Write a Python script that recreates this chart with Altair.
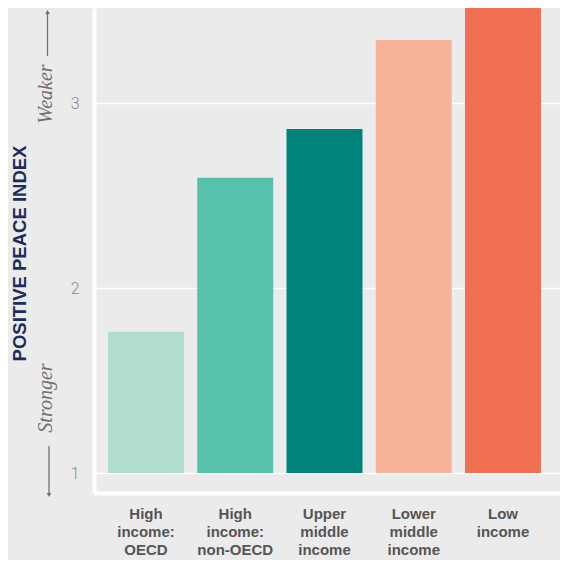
import altair as alt
import pandas as pd

categories = ["High income: OECD", "High income: non-OECD", "Upper middle income",
              "Lower middle income", "Low income"]
values = [1.765, 2.597, 2.862, 3.343, 3.75]
colors = ["#b0ddcf", "#57c2ab", "#00837b", "#f8b299", "#f17052"]
y_ticks = [1, 2, 3]
base_value = 1
y_title = "POSITIVE PEACE INDEX"
weaker_label = ["Weaker"]
stronger_label = ["Stronger"]

df = pd.DataFrame({"category": categories, "value": values,
                   "base": [base_value] * len(categories)})

W, H = 466, 485
GRAY = "#707070"

bars = alt.Chart(df).mark_bar(clip=True).encode(
    x=alt.X("category:N", sort=categories,
            scale=alt.Scale(paddingInner=0.1485, paddingOuter=0.185, align=0.424),
            axis=alt.Axis(title=None, labelAngle=0,
                          labelExpr="split(datum.label, ' ')",
                          labelFont="Liberation Sans", labelFontSize=15,
                          labelFontWeight="bold", labelColor="#555555",
                          labelLineHeight=18, labelPadding=13,
                          ticks=False, tickSize=0, grid=False,
                          domainColor="white", domainWidth=4)),
    y=alt.Y("value:Q",
            scale=alt.Scale(domain=[0.892, 3.516], nice=False, zero=False),
            axis=alt.Axis(values=y_ticks, title=y_title, format="d",
                          ticks=False, tickSize=0, labelPadding=15,
                          labelFont="Roboto", labelFontWeight=300,
                          labelFontSize=16, labelColor="#8a8a8a",
                          gridColor="white", gridWidth=1.5,
                          domainColor="white", domainWidth=4,
                          titleFont="Liberation Sans", titleFontSize=18.5,
                          titleFontWeight="bold", titleColor="#1e2c5c",
                          titleAngle=270, titleX=-75, titleY=245,
                          titleAlign="center", titleBaseline="middle")),
    y2="base:Q",
    color=alt.Color("category:N", sort=categories,
                    scale=alt.Scale(domain=categories, range=colors), legend=None),
)

text_style = dict(angle=270, font="Liberation Serif", fontStyle="italic",
                  fontSize=20, color=GRAY, align="center", baseline="middle")

weaker = alt.Chart(pd.DataFrame({"t": weaker_label})).mark_text(**text_style).encode(
    text="t:N", x=alt.value(-48), y=alt.value(86))
stronger = alt.Chart(pd.DataFrame({"t": stronger_label})).mark_text(**text_style).encode(
    text="t:N", x=alt.value(-48), y=alt.value(390))

one = pd.DataFrame({"k": [0]})
up_line = alt.Chart(one).mark_rule(color=GRAY, strokeWidth=1.3).encode(
    x=alt.value(-46.5), y=alt.value(6), y2=alt.value(48))
up_head = alt.Chart(one).mark_point(shape="triangle-up", filled=True, size=22,
                                    color=GRAY, opacity=1).encode(
    x=alt.value(-46.5), y=alt.value(4))
down_line = alt.Chart(one).mark_rule(color=GRAY, strokeWidth=1.3).encode(
    x=alt.value(-45), y=alt.value(438), y2=alt.value(485))
down_head = alt.Chart(one).mark_point(shape="triangle-down", filled=True, size=22,
                                      color=GRAY, opacity=1).encode(
    x=alt.value(-45), y=alt.value(487))

chart = alt.layer(bars, weaker, stronger, up_line, up_head, down_line, down_head).properties(
    width=W, height=H,
    padding={"left": 86, "top": 0, "right": 0, "bottom": 67},
    autosize=alt.AutoSizeParams(type="none"),
    background="#ebebeb",
).configure_view(stroke=None, fill="#ebebeb")

chart.save("out.html", embed_options={"renderer": "svg", "actions": False})
